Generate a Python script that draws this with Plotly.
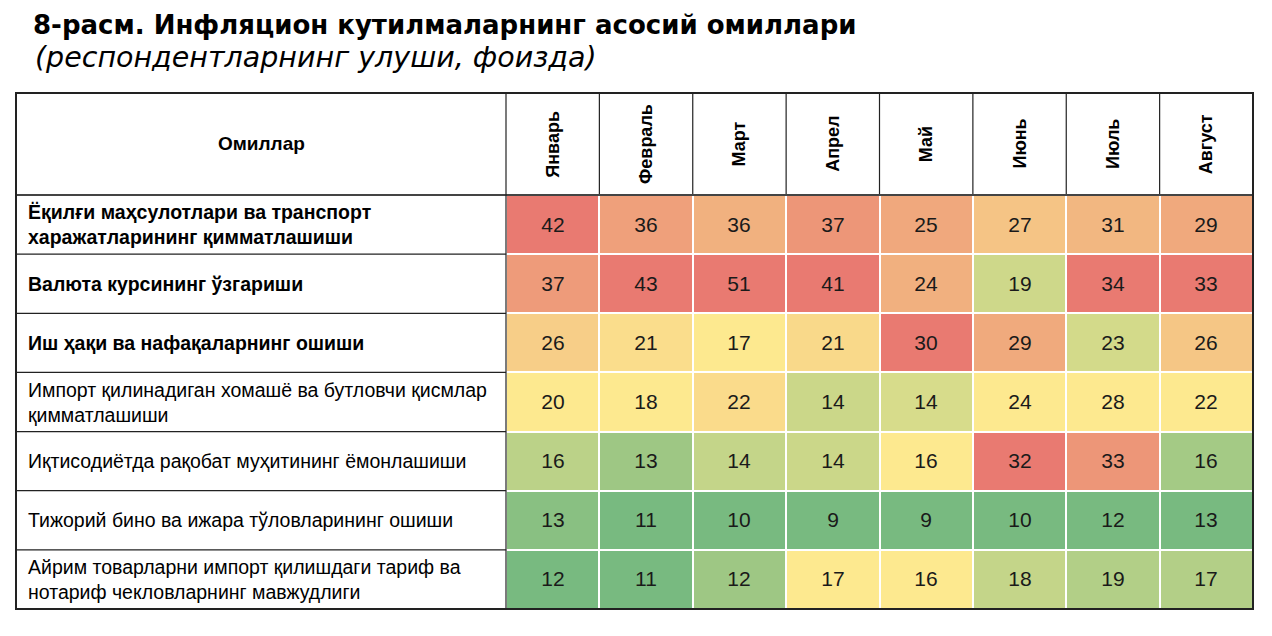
import numpy as np
import plotly.graph_objects as go

months = ["Январь", "Февраль", "Март", "Апрел", "Май", "Июнь", "Июль", "Август"]

factors = [
    "Ёқилғи маҳсулотлари ва транспорт<br>харажатларининг қимматлашиши",
    "Валюта курсининг ўзгариши",
    "Иш ҳақи ва нафақаларнинг ошиши",
    "Импорт қилинадиган хомашё ва бутловчи қисмлар<br>қимматлашиши",
    "Иқтисодиётда рақобат муҳитининг ёмонлашиши",
    "Тижорий бино ва ижара тўловларининг ошиши",
    "Айрим товарларни импорт қилишдаги тариф ва<br>нотариф чекловларнинг мавжудлиги",
]
bold_rows = [0, 1, 2]

fuel = [42, 36, 36, 37, 25, 27, 31, 29]
currency = [37, 43, 51, 41, 24, 19, 34, 33]
wages = [26, 21, 17, 21, 30, 29, 23, 26]
imports = [20, 18, 22, 14, 14, 24, 28, 22]
competition = [16, 13, 14, 14, 16, 32, 33, 16]
rent = [13, 11, 10, 9, 9, 10, 12, 13]
tariffs = [12, 11, 12, 17, 16, 18, 19, 17]

values = np.array([fuel, currency, wages, imports, competition, rent, tariffs], dtype=float)

# colour scale per month column: min -> green, median -> yellow, max -> red
norm = np.zeros_like(values)
for j in range(values.shape[1]):
    col = values[:, j]
    lo, mid, hi = col.min(), np.median(col), col.max()
    for i, v in enumerate(col):
        if v <= mid:
            norm[i, j] = 0.5 * (v - lo) / (mid - lo) if mid > lo else 0.5
        else:
            norm[i, j] = 0.5 + 0.5 * (v - mid) / (hi - mid)

# page has an 8px body margin, so work in page pixels and shift
OFF = 8
W, H = 1272 - OFF, 636 - OFF
def px(x):
    return (x - OFF) / W
def py(y):
    return 1 - (y - OFF) / H

left, split, right = 16, 506, 1253
top, head, bottom = 93, 195, 609

fig = go.Figure(go.Heatmap(
    z=norm,
    x=list(range(len(months))),
    y=list(range(len(factors))),
    text=values.astype(int),
    texttemplate="%{text}",
    textfont=dict(size=21, color="#1a1a1a", family="Liberation Sans, Arial"),
    colorscale=[[0, "#78BA80"], [0.5, "#FDE98F"], [0.7, "#F4C284"],
                [0.85, "#EFA27B"], [0.95, "#EC9077"], [1, "#E97A71"]],
    zmin=0, zmax=1,
    xgap=2, ygap=2,
    showscale=False,
    hoverinfo="skip",
))

fig.update_xaxes(domain=[px(split), px(right)], range=[-0.5, len(months) - 0.5],
                 visible=False, fixedrange=True)
fig.update_yaxes(domain=[py(bottom), py(head)], range=[len(factors) - 0.5, -0.5],
                 visible=False, fixedrange=True)

font = "Liberation Sans, Arial, sans-serif"
ann = []
ann.append(dict(text="<b>8-расм. Инфляцион кутилмаларнинг асосий омиллари</b>",
                xref="paper", yref="paper", x=px(31), y=py(8), xanchor="left", yanchor="top",
                showarrow=False, font=dict(size=26, color="black", family="DejaVu Sans")))
ann.append(dict(text="<i>(респондентларнинг улуши, фоизда)</i>",
                xref="paper", yref="paper", x=px(33), y=py(57), xanchor="left", yanchor="middle",
                showarrow=False, font=dict(size=28.5, color="black", family="DejaVu Sans")))
ann.append(dict(text="<b>Омиллар</b>", xref="paper", yref="paper",
                x=px((left + split) / 2), y=py((top + head) / 2), showarrow=False,
                xanchor="center", yanchor="middle",
                font=dict(size=19, color="black", family=font)))
for j, m in enumerate(months):
    ann.append(dict(text="<b>" + m + "</b>", xref="x", yref="paper", x=j, y=py((top + head) / 2),
                    textangle=-90, showarrow=False, xanchor="center", yanchor="middle",
                    font=dict(size=18, color="black", family=font)))
for i, f in enumerate(factors):
    t = "<b>" + f.replace("<br>", "</b><br><b>") + "</b>" if i in bold_rows else f
    ann.append(dict(text=t, xref="paper", yref="y", x=px(26), y=i, xanchor="left",
                    align="left", showarrow=False,
                    font=dict(size=19.5, color="black", family=font)))

shapes = []
# row separators in label column
for i in range(1, len(factors)):
    shapes.append(dict(type="line", xref="paper", yref="y", x0=px(left), x1=px(split),
                       y0=i - 0.5, y1=i - 0.5, line=dict(color="#222", width=1.2)))
# header separators
for j in range(1, len(months)):
    shapes.append(dict(type="line", xref="x", yref="paper", x0=j - 0.5, x1=j - 0.5,
                       y0=py(head), y1=py(top), line=dict(color="#222", width=1.2)))
shapes.append(dict(type="line", xref="paper", yref="paper", x0=px(left), x1=px(right),
                   y0=py(head), y1=py(head), line=dict(color="#444", width=1.8)))
shapes.append(dict(type="line", xref="paper", yref="paper", x0=px(split), x1=px(split),
                   y0=py(bottom), y1=py(top), line=dict(color="#222", width=1.2)))
shapes.append(dict(type="rect", xref="paper", yref="paper", x0=px(left), x1=px(right),
                   y0=py(bottom), y1=py(top), line=dict(color="#222", width=2)))

fig.update_layout(
    width=W, height=H,
    margin=dict(l=0, r=0, t=0, b=0),
    paper_bgcolor="white", plot_bgcolor="white",
    annotations=ann, shapes=shapes,
)

fig.write_html("out.html")
